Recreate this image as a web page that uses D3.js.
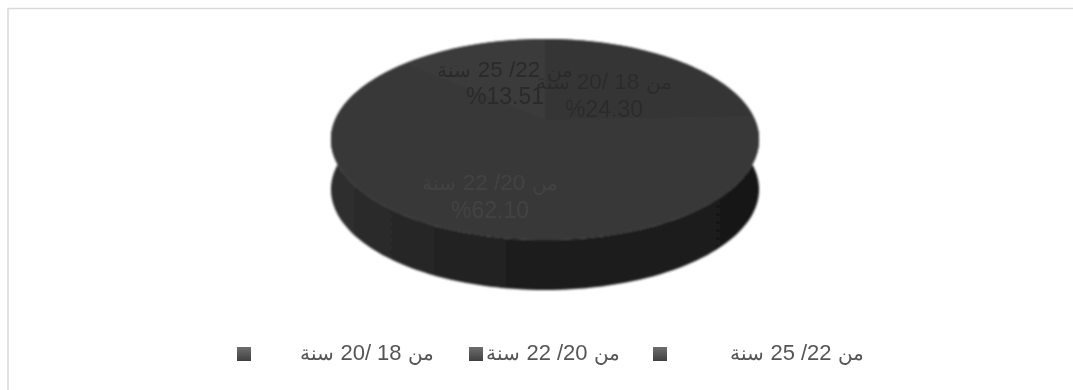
<!DOCTYPE html>
<html>
<head>
<meta charset="utf-8">
<script src="https://cdnjs.cloudflare.com/ajax/libs/d3/7.8.5/d3.min.js"></script>
<style>
html,body{margin:0;padding:0;background:#fff;}
svg{display:block;}
text{font-family:"Liberation Sans",Arial,sans-serif;white-space:pre;}
</style>
</head>
<body>
<svg id="chart" width="1073" height="390"></svg>
<script>
// Age groups and their shares, in percent
const categories = ["من 18 /20 سنة", "من 20/ 22 سنة", "من 22/ 25 سنة"];
const shares = [24.30, 62.10, 13.51];
const shareLabels = ["%24.30", "%62.10", "%13.51"];
const topColors = ["#343434", "#393939", "#3a3a3a"];
const labelColors = ["#2c2c2c", "#434343", "#2a2a2a"];
const legendOrder = [2, 1, 0];

const svg = d3.select("#chart");
const defs = svg.append("defs");

defs.append("filter").attr("id", "soft").attr("x", "-5%").attr("y", "-5%").attr("width", "110%").attr("height", "110%")
  .append("feGaussianBlur").attr("stdDeviation", 1.3);
defs.append("filter").attr("id", "softText").append("feGaussianBlur").attr("stdDeviation", 0.5);
defs.append("filter").attr("id", "softLegend").append("feGaussianBlur").attr("stdDeviation", 0.3);

const wall = defs.append("linearGradient").attr("id", "wall");
[[0, "#2f2f2f"], [0.2, "#262626"], [0.5, "#1d1d1d"], [1, "#191919"]].forEach(([o, c]) =>
  wall.append("stop").attr("offset", o).attr("stop-color", c));

const swatch = defs.append("linearGradient").attr("id", "swatch").attr("x2", 0).attr("y2", 1);
[[0, "#6e6e6e"], [1, "#404040"]].forEach(([o, c]) =>
  swatch.append("stop").attr("offset", o).attr("stop-color", c));

// Frame
svg.append("rect").attr("x", 8).attr("y", 8.5).attr("width", 1080).attr("height", 390)
  .attr("fill", "#fff").attr("stroke", "#d9d9d9").attr("stroke-width", 1.5);

// Tilted disc: unit-circle angle to page position, with the far side foreshortened
const apex = {x: 545, y: 120};
const depth = 50;
const tilt = 0.194, spanX = 210, spanY = 96.7;
function project(angle, r, drop) {
  const u = r * Math.sin(angle), v = r * Math.cos(angle);
  const w = 1 + tilt * v;
  return [apex.x + spanX * u / w, apex.y - spanY * v / w + drop];
}
const line = d3.line();
const angleSteps = (a0, a1) => d3.range(0, 121).map(i => a0 + (a1 - a0) * i / 120);

const slices = d3.pie().sort(null).value(d => d)(shares);
const pie = svg.append("g").attr("filter", "url(#soft)");

// Side wall: outer rim of the lower half swept down by the disc depth
const front = angleSteps(Math.PI * 0.40, Math.PI * 1.60);
const wallPts = front.map(a => project(a, 1, 0)).concat(front.slice().reverse().map(a => project(a, 1, depth)));
pie.append("path").attr("d", line(wallPts) + "Z").attr("fill", "url(#wall)");

// Top faces, over a full disc so the blur leaves no seams between them
pie.append("path").attr("d", line(angleSteps(0, 2 * Math.PI).map(a => project(a, 1, 0))) + "Z").attr("fill", topColors[1]);
pie.selectAll("path.slice").data(slices).join("path").attr("class", "slice")
  .attr("d", d => line([[apex.x, apex.y]].concat(angleSteps(d.startAngle, d.endAngle).map(a => project(a, 1, 0)))) + "Z")
  .attr("fill", (d, i) => topColors[i]);

// Arabic words are set a little smaller than the Latin digits beside them
function fillMixed(sel, str, size) {
  str.split(/([\u0600-\u06FF]+)/).filter(s => s.length).forEach(part => {
    const arabic = /[\u0600-\u06FF]/.test(part);
    sel.append("tspan").attr("font-size", arabic ? size * 0.9 : size).text(part);
  });
}

// Data labels
const labelLayer = svg.append("g").attr("filter", "url(#softText)");
shares.forEach((s, i) => {
  const cx = [604, 490, 505][i], y1 = [89, 190, 77][i], y2 = [117, 218, 104][i];
  const head = labelLayer.append("text").attr("x", cx).attr("y", y1).attr("text-anchor", "middle")
    .attr("fill", labelColors[i]).attr("direction", "rtl");
  fillMixed(head, categories[i], 22.5);
  labelLayer.append("text").attr("x", cx).attr("y", y2).attr("text-anchor", "middle")
    .attr("font-size", 23).attr("fill", labelColors[i]).attr("direction", "ltr").text(shareLabels[i]);
});

// Legend
const legendText = [797, 553, 367], legendBox = [660, 476, 244];
const legendLayer = svg.append("g").attr("filter", "url(#softLegend)");
legendOrder.forEach((k, i) => {
  legendLayer.append("rect").attr("x", legendBox[i] - 7).attr("y", 347).attr("width", 14).attr("height", 14)
    .attr("fill", "url(#swatch)");
  const t = legendLayer.append("text").attr("x", legendText[i]).attr("y", 360).attr("text-anchor", "middle")
    .attr("fill", "#555555").attr("direction", "rtl");
  fillMixed(t, categories[k], 22);
});
</script>
</body>
</html>
